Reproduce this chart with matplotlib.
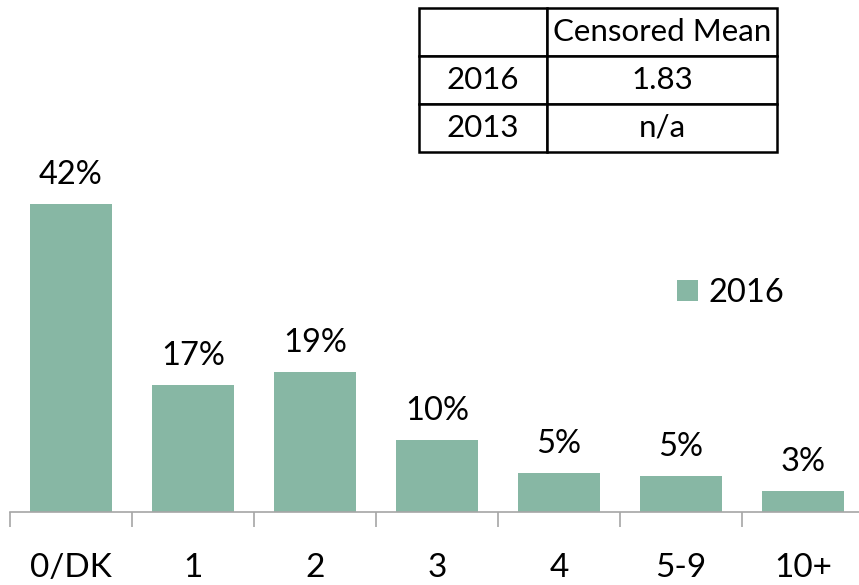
import matplotlib
matplotlib.use("Agg")
import matplotlib.pyplot as plt
from matplotlib.patches import Patch

categories = ["0/DK", "1", "2", "3", "4", "5-9", "10+"]
values_2016 = [42.0, 17.3, 19.1, 9.8, 5.3, 4.9, 2.9]
series_name = "2016"
table_rows = [["", "Censored Mean"], ["2016", "1.83"], ["2013", "n/a"]]

plt.rcParams['font.family'] = ['Lato', 'DejaVu Sans']

W, H = 859, 585
fig = plt.figure(figsize=(W / 100, H / 100), dpi=100)
bar_color = "#87B7A4"
axis_color = "#A6A6A6"

# main axes: x from 10 px to 864 px, y from 512 px (bottom) to 72 px
ax = fig.add_axes([10 / W, (H - 512) / H, 854 / W, 440 / H])
x = list(range(len(categories)))
bars = ax.bar(x, values_2016, width=0.664, color=bar_color, zorder=2)
ax.set_xlim(-0.5, len(categories) - 0.5)
ax.set_ylim(0, 60)

for xi, v in zip(x, values_2016):
    ax.annotate(f"{v:.0f}%", (xi, v), xytext=(0, 14.4), textcoords="offset points",
                ha="center", va="baseline", fontsize=23.5, color="black")

ax.set_xticks([i - 0.5 for i in range(len(categories) + 1)], minor=False)
ax.set_xticklabels([])
ax.set_xticks(x, minor=True)
ax.set_xticklabels(categories, minor=True, fontsize=24)
ax.tick_params(axis="x", which="major", length=11, width=1.2, color=axis_color, direction="out")
ax.tick_params(axis="x", which="minor", length=0, pad=29.5)
ax.set_yticks([])
for s in ["top", "right", "left"]:
    ax.spines[s].set_visible(False)
ax.spines["bottom"].set_color(axis_color)
ax.spines["bottom"].set_linewidth(1.2)

# legend
handle = Patch(facecolor=bar_color, edgecolor="none")
fig.legend([handle], [series_name], loc="center left",
           bbox_to_anchor=(677 / W, (H - 293) / H), frameon=False, fontsize=23.5,
           handlelength=0.65, handleheight=0.65, handletextpad=0.3,
           borderpad=0, borderaxespad=0)

# table
tax = fig.add_axes([419 / W, (H - 152) / H, (777 - 419) / W, 144 / H])
tax.axis("off")
tbl = tax.table(cellText=table_rows, cellLoc="center", bbox=[0, 0, 1, 1],
                colWidths=[128 / 358, 230 / 358])
tbl.auto_set_font_size(False)
for (r, c), cell in tbl.get_celld().items():
    cell.set_linewidth(1.8)
    cell.set_edgecolor("black")
    cell.get_text().set_fontsize(22.5)
    cell.PAD = 0.02

fig.savefig("out.png", dpi=100)
